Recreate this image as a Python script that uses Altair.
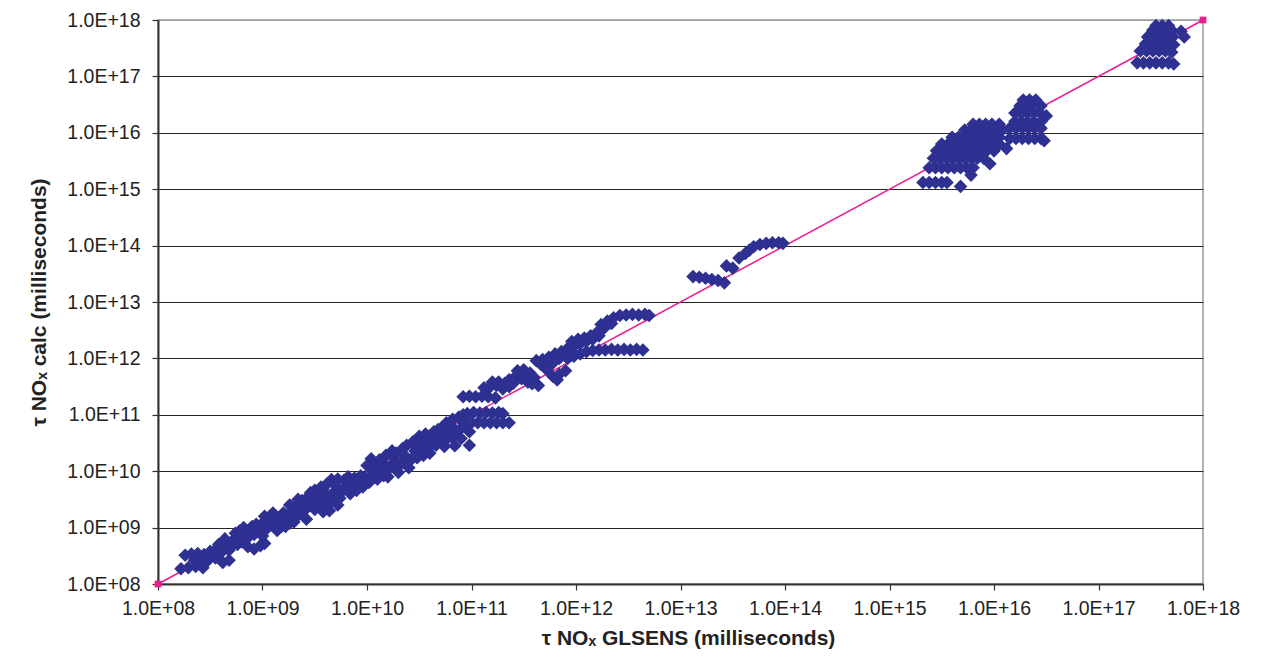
import altair as alt
import pandas as pd

# Values, stored as log10 exponents (axis position in decades)
cluster_a_x = [8.22, 8.29, 8.36, 8.43, 8.26, 8.32, 8.38, 8.44, 8.48, 8.55, 8.62, 8.68,
               8.50, 8.56, 8.62, 8.66, 8.60, 8.68, 8.72, 8.76, 8.80, 8.74, 8.80, 8.86,
               8.84, 8.90, 8.92, 8.96, 8.86, 8.92, 8.98, 9.02, 9.00, 9.04, 9.06, 9.10,
               9.12, 9.14, 9.16, 9.20, 9.22, 9.24, 9.28, 9.30, 9.32, 9.34, 9.38, 9.40,
               9.42, 9.44, 9.46, 9.48, 9.50, 9.52, 9.54, 9.58, 9.60, 9.64, 9.58, 9.62,
               9.66, 9.68, 9.72, 9.74, 9.78, 9.80, 9.84, 9.86, 9.90, 9.92, 9.96, 9.98,
               10.02, 10.04, 10.06, 10.08, 10.10, 10.14, 10.16, 10.20, 10.22, 10.24, 10.26, 10.30,
               10.32, 10.34, 10.36, 10.40, 10.42, 10.44, 10.46, 10.50, 10.52, 10.54, 10.56, 10.58,
               10.62, 10.64, 10.66, 10.70, 10.72, 10.74, 10.78, 10.80, 10.84, 10.86, 10.88, 10.90,
               10.94, 10.96, 10.98, 10.92, 11.00, 11.06, 11.12, 11.18, 11.24, 11.30, 11.36, 11.02,
               11.08, 11.14, 11.20, 11.26, 11.30,
               8.35, 8.42, 8.52, 8.58, 8.64, 8.70, 8.78, 8.82, 8.88, 8.94, 9.00, 9.02,
               9.08, 9.10, 9.18, 9.18, 9.26, 9.26, 9.34, 9.36, 9.44, 9.50, 9.56, 9.56,
               9.62, 9.70, 9.76, 9.82, 9.88, 9.94, 10.00, 10.06, 10.12, 10.18, 10.20, 10.28,
               10.28, 10.38, 10.38, 10.48, 10.48, 10.54, 10.60, 10.60, 10.68, 10.68, 10.76, 10.76,
               10.82, 10.82, 10.90, 10.92, 10.98, 9.66, 9.72, 10.10, 10.16]
cluster_a_y = [8.27, 8.29, 8.31, 8.29, 8.51, 8.53, 8.54, 8.52, 8.42, 8.46, 8.38, 8.42,
               8.58, 8.62, 8.66, 8.72, 8.55, 8.60, 8.78, 8.70, 8.86, 8.90, 8.75, 8.82,
               8.95, 9.02, 8.88, 8.98, 8.66, 8.62, 8.68, 8.72, 9.08, 8.98, 9.14, 9.04,
               9.20, 8.95, 9.10, 9.26, 9.02, 9.16, 9.30, 9.10, 9.40, 9.22, 9.48, 9.30,
               9.15, 9.40, 9.62, 9.50, 9.32, 9.58, 9.44, 9.28, 9.36, 9.30, 9.68, 9.55,
               9.85, 9.62, 9.86, 9.52, 9.84, 9.70, 9.60, 9.78, 9.66, 9.82, 9.72, 9.90,
               9.80, 10.22, 9.96, 10.12, 9.86, 10.02, 10.14, 9.90, 10.08, 10.36, 10.22, 9.98,
               10.12, 10.40, 10.28, 10.06, 10.20, 10.52, 10.36, 10.62, 10.46, 10.28, 10.66, 10.40,
               10.56, 10.70, 10.46, 10.62, 10.78, 10.44, 10.66, 10.82, 10.45, 10.70, 10.96, 10.58,
               10.84, 11.02, 10.46, 10.86, 10.86, 10.86, 10.86, 10.86, 10.86, 10.86, 10.86, 11.04,
               11.03, 11.04, 11.03, 11.04, 11.02,
               8.42, 8.40, 8.52, 8.70, 8.80, 8.68, 8.94, 9.00, 8.92, 9.06, 8.85, 9.20,
               9.10, 9.26, 9.18, 9.02, 9.40, 9.08, 9.50, 9.36, 9.55, 9.66, 9.50, 9.72,
               9.78, 9.74, 9.64, 9.90, 9.88, 9.92, 10.10, 10.06, 10.20, 10.28, 10.02, 10.32,
               10.10, 10.46, 10.18, 10.50, 10.24, 10.56, 10.62, 10.32, 10.74, 10.54, 10.86, 10.56,
               10.92, 10.60, 10.76, 11.00, 10.70, 9.46, 9.40, 9.96, 9.92]

cluster_b_x = [10.92, 10.98, 11.04, 11.10, 11.16, 11.23, 11.12, 11.18, 11.24, 11.30, 11.36, 11.20,
               11.36, 11.42, 11.48, 11.54, 11.58, 11.64, 11.44, 11.50, 11.56, 11.78, 11.84, 11.90,
               11.82, 11.62, 11.68, 11.74, 11.80, 11.86, 11.92, 11.98, 11.70, 11.78, 11.96, 12.02,
               12.08, 12.14, 12.20, 12.26, 12.24, 12.30, 12.36, 12.42, 12.48, 12.54, 12.60, 12.66,
               12.70, 11.92, 11.98, 12.04, 12.10, 12.16, 12.22, 12.28, 12.34, 12.40, 12.46, 12.52,
               12.58, 12.64,
               11.26, 11.32, 11.40, 11.46, 11.52, 11.60, 11.66, 11.72, 11.84, 11.90, 11.96, 12.04,
               12.10, 12.16, 12.22, 12.28, 12.34]
cluster_b_y = [11.32, 11.33, 11.32, 11.33, 11.32, 11.30, 11.48, 11.50, 11.52, 11.46, 11.50, 11.58,
               11.62, 11.68, 11.64, 11.58, 11.55, 11.52, 11.78, 11.80, 11.74, 11.68, 11.72, 11.78,
               11.62, 11.96, 11.98, 12.02, 12.08, 12.12, 12.18, 12.22, 11.88, 11.92, 12.30, 12.34,
               12.36, 12.40, 12.46, 12.52, 12.60, 12.66, 12.72, 12.76, 12.77, 12.78, 12.77, 12.78,
               12.76, 12.00, 12.04, 12.08, 12.12, 12.14, 12.15, 12.15, 12.16, 12.15, 12.16, 12.15,
               12.16, 12.15,
               11.58, 11.56, 11.56, 11.74, 11.70, 11.66, 11.90, 11.80, 12.00, 12.06, 12.12, 12.26,
               12.30, 12.34, 12.40, 12.56, 12.62]

cluster_c_x = [13.12, 13.18, 13.24, 13.30, 13.36, 13.42, 13.44, 13.50, 13.56, 13.62, 13.66, 13.70,
               13.76, 13.82, 13.88, 13.94, 13.98]
cluster_c_y = [13.45, 13.44, 13.42, 13.40, 13.38, 13.34, 13.64, 13.60, 13.78, 13.86, 13.92, 13.98,
               14.02, 14.04, 14.05, 14.05, 14.04]

cluster_d_x = [15.32, 15.38, 15.44, 15.50, 15.55, 15.68,
               15.38, 15.44, 15.50, 15.56, 15.62, 15.68, 15.74, 15.80, 15.78, 15.96,
               15.42, 15.48, 15.54, 15.60, 15.66, 15.72, 15.78, 15.84, 15.90,
               15.45, 15.51, 15.57, 15.63, 15.69, 15.75, 15.81, 15.87, 15.93, 16.00,
               15.50, 15.56, 15.62, 15.68, 15.74, 15.80, 15.86, 15.92, 15.98, 16.05,
               15.60, 15.66, 15.72, 15.78, 15.84, 15.90, 15.96, 16.02, 16.05,
               15.72, 15.78, 15.84, 15.90, 15.96, 16.02, 16.08,
               15.80, 15.86, 15.92, 15.98, 16.05, 16.12,
               16.15, 16.21, 16.27, 16.33, 16.39, 16.45, 16.48,
               16.15, 16.21, 16.27, 16.33, 16.39, 16.45,
               16.20, 16.26, 16.32, 16.38, 16.45,
               16.20, 16.26, 16.32, 16.38, 16.44, 16.50,
               16.25, 16.31, 16.37, 16.45,
               16.28, 16.34, 16.40]
cluster_d_y = [15.12, 15.12, 15.12, 15.12, 15.12, 15.05,
               15.38, 15.38, 15.38, 15.38, 15.38, 15.38, 15.38, 15.38, 15.25, 15.45,
               15.55, 15.55, 15.55, 15.55, 15.55, 15.55, 15.55, 15.55, 15.55,
               15.68, 15.68, 15.68, 15.68, 15.68, 15.68, 15.68, 15.68, 15.68, 15.68,
               15.80, 15.80, 15.80, 15.80, 15.80, 15.80, 15.80, 15.80, 15.80, 15.80,
               15.92, 15.92, 15.92, 15.92, 15.92, 15.92, 15.92, 15.92, 15.92,
               16.05, 16.05, 16.05, 16.05, 16.05, 16.05, 16.05,
               16.15, 16.15, 16.15, 16.15, 16.15, 15.72,
               15.90, 15.90, 15.90, 15.90, 15.90, 15.90, 15.86,
               16.08, 16.08, 16.08, 16.08, 16.08, 16.08,
               16.20, 16.20, 16.20, 16.20, 16.20,
               16.35, 16.35, 16.35, 16.35, 16.35, 16.30,
               16.48, 16.48, 16.48, 16.48,
               16.58, 16.58, 16.58]

cluster_e_x = [17.37, 17.43, 17.49, 17.55, 17.61, 17.67, 17.72,
               17.40, 17.46, 17.52, 17.58, 17.64, 17.70,
               17.45, 17.51, 17.57, 17.63, 17.69, 17.72,
               17.47, 17.53, 17.59, 17.65, 17.71,
               17.52, 17.58, 17.64, 17.70,
               17.55, 17.61, 17.67,
               17.79, 17.82]
cluster_e_y = [17.24, 17.24, 17.24, 17.24, 17.24, 17.24, 17.22,
               17.45, 17.45, 17.45, 17.45, 17.45, 17.43,
               17.58, 17.58, 17.58, 17.58, 17.58, 17.56,
               17.70, 17.70, 17.70, 17.70, 17.70,
               17.82, 17.82, 17.82, 17.82,
               17.90, 17.90, 17.90,
               17.80, 17.70]

line_exp = [8.0, 18.0]
tick_exp = [8, 9, 10, 11, 12, 13, 14, 15, 16, 17, 18]

BLUE = "#2E3192"
PINK = "#EC1C8C"
FONT = "Liberation Sans"

xs = cluster_a_x + cluster_b_x + cluster_c_x + cluster_d_x + cluster_e_x
ys = cluster_a_y + cluster_b_y + cluster_c_y + cluster_d_y + cluster_e_y
pts = pd.DataFrame({"x": [10 ** v for v in xs], "y": [10 ** v for v in ys]})
line_df = pd.DataFrame({"x": [10 ** v for v in line_exp], "y": [10 ** v for v in line_exp]})
ticks = [10 ** t for t in tick_exp]

label_expr = "'1.0E+' + (round(log(datum.value)/LN10) < 10 ? '0' : '') + round(log(datum.value)/LN10)"

x_scale = alt.Scale(type="log", domain=[1e8, 1e18], nice=False)
y_scale = alt.Scale(type="log", domain=[1e8, 1e18], nice=False)

x_axis = alt.Axis(
    values=ticks, labelExpr=label_expr, grid=False,
    title="τ NOₓ GLSENS (milliseconds)",
    titleX=530, titleY=60, titleBaseline="alphabetic", titleAlign="center",
    tickSize=6, labelPadding=9, labelFlush=False, labelOverlap=False,
)
y_axis = alt.Axis(
    values=ticks, labelExpr=label_expr, grid=True,
    gridColor={"condition": {"test": "datum.value > 5e17", "value": "#9a9a9a"}, "value": "#262626"},
    title="τ NOₓ calc (milliseconds)",
    titleX=-113, titleY=282, titleAngle=-90, titleBaseline="alphabetic", titleAlign="center",
    tickSize=6, labelPadding=12, labelOverlap=False,
)

line = alt.Chart(line_df).mark_line(
    color=PINK, strokeWidth=1.5, clip=False,
    point=alt.OverlayMarkDef(shape="square", size=45, color=PINK, filled=True, opacity=1),
).encode(
    x=alt.X("x:Q", scale=x_scale, axis=x_axis),
    y=alt.Y("y:Q", scale=y_scale, axis=y_axis),
)

points = alt.Chart(pts).mark_point(
    shape="diamond", filled=True, size=185, color=BLUE, opacity=1,
).encode(
    x=alt.X("x:Q", scale=x_scale),
    y=alt.Y("y:Q", scale=y_scale),
)

chart = alt.layer(line, points).properties(
    width=1045, height=564,
    autosize=alt.AutoSizeParams(type="none"),
    padding={"left": 150, "top": 12, "right": 50, "bottom": 72},
).configure_view(
    stroke="#9a9a9a", strokeWidth=1.5,
).configure_axis(
    labelFont=FONT, labelFontSize=19.5, labelColor="#222222",
    titleFont=FONT, titleFontSize=21, titleFontWeight="bold", titleColor="#222222",
    domainColor="#333333", domainWidth=2, tickColor="#333333", tickWidth=1.2,
    gridWidth=1,
)

chart.save("out.html", embed_options={"renderer": "svg", "actions": False})
